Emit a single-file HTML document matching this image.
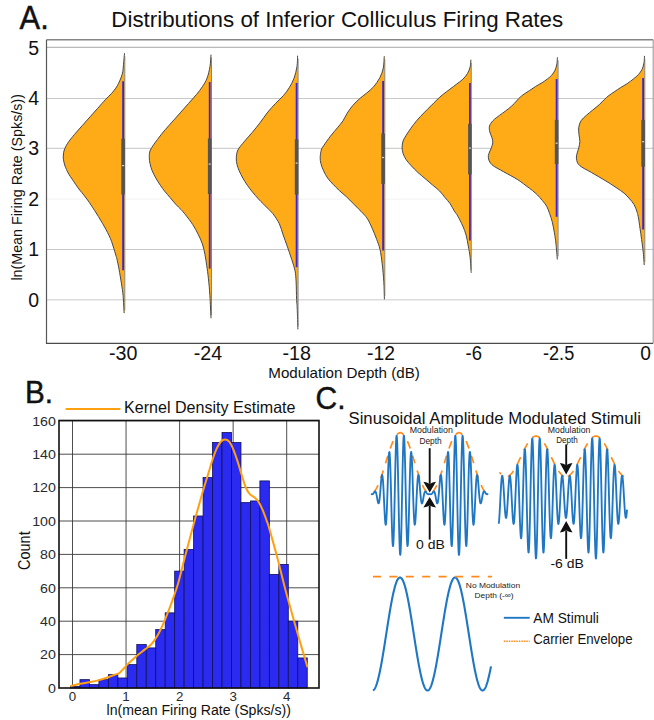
<!DOCTYPE html>
<html><head><meta charset="utf-8"><style>
html,body{margin:0;padding:0;background:#fff;width:654px;height:720px;overflow:hidden}
svg{display:block;font-family:"Liberation Sans", sans-serif}
</style></head><body>
<svg width="654" height="720" viewBox="0 0 654 720">
<rect width="654" height="720" fill="#fff"/>
<line x1="46.5" y1="299.7" x2="653.2" y2="299.7" stroke="#dcdcdc" stroke-width="1.5"/>
<line x1="46.5" y1="249.5" x2="653.2" y2="249.5" stroke="#c6c6c6" stroke-width="1.2"/>
<line x1="46.5" y1="199.2" x2="653.2" y2="199.2" stroke="#f5f5f5" stroke-width="1.2"/>
<line x1="46.5" y1="148.4" x2="653.2" y2="148.4" stroke="#cfcfcf" stroke-width="1.2"/>
<line x1="46.5" y1="98.5" x2="653.2" y2="98.5" stroke="#c9c9c9" stroke-width="1.2"/>
<line x1="46.5" y1="47.4" x2="653.2" y2="47.4" stroke="#b9b9b9" stroke-width="1.3"/>
<path d="M124.5,53.2 C124.33,55.07 123.88,60.9 123.5,64.4 C123.12,67.9 123.23,70.63 122.2,74.2 C121.17,77.77 119.1,82.57 117.3,85.8 C115.5,89.03 113.35,91.33 111.4,93.6 C109.45,95.87 107.87,96.97 105.6,99.4 C103.33,101.83 100.4,105.28 97.8,108.2 C95.2,111.12 92.6,113.98 90,116.9 C87.4,119.82 84.78,122.78 82.2,125.7 C79.62,128.62 76.92,131.48 74.5,134.4 C72.08,137.32 69.41,140.6 67.7,143.2 C65.99,145.8 64.97,148.03 64.25,150 C63.53,151.97 63.54,153.47 63.4,155 C63.26,156.53 63.18,157.53 63.4,159.2 C63.62,160.87 64.18,163.28 64.7,165 C65.22,166.72 65.82,167.97 66.5,169.5 C67.18,171.03 67.85,172.58 68.8,174.2 C69.75,175.82 71.08,177.53 72.2,179.2 C73.32,180.87 74.25,182.4 75.5,184.2 C76.75,186 78.32,188.2 79.7,190 C81.08,191.8 82.48,193.33 83.8,195 C85.12,196.67 86.4,198.33 87.6,200 C88.8,201.67 89.8,203.2 91,205 C92.2,206.8 93.55,208.85 94.8,210.8 C96.05,212.75 97.22,214.62 98.5,216.7 C99.78,218.78 101.28,221.22 102.5,223.3 C103.72,225.38 104.68,227.12 105.8,229.2 C106.92,231.28 108.22,233.72 109.2,235.8 C110.18,237.88 110.94,239.62 111.7,241.7 C112.46,243.78 113.07,246.08 113.75,248.3 C114.43,250.52 115.21,252.95 115.8,255 C116.39,257.05 116.67,257.72 117.3,260.6 C117.93,263.48 118.9,268.42 119.6,272.3 C120.3,276.18 120.92,280.02 121.5,283.9 C122.08,287.78 122.67,290.73 123.1,295.6 C123.53,300.47 123.93,310.18 124.1,313.1 L124.5,313.1 L124.5,53.2 Z" fill="#feab17" stroke="none"/>
<path d="M124.5,53.2 C124.33,55.07 123.88,60.9 123.5,64.4 C123.12,67.9 123.23,70.63 122.2,74.2 C121.17,77.77 119.1,82.57 117.3,85.8 C115.5,89.03 113.35,91.33 111.4,93.6 C109.45,95.87 107.87,96.97 105.6,99.4 C103.33,101.83 100.4,105.28 97.8,108.2 C95.2,111.12 92.6,113.98 90,116.9 C87.4,119.82 84.78,122.78 82.2,125.7 C79.62,128.62 76.92,131.48 74.5,134.4 C72.08,137.32 69.41,140.6 67.7,143.2 C65.99,145.8 64.97,148.03 64.25,150 C63.53,151.97 63.54,153.47 63.4,155 C63.26,156.53 63.18,157.53 63.4,159.2 C63.62,160.87 64.18,163.28 64.7,165 C65.22,166.72 65.82,167.97 66.5,169.5 C67.18,171.03 67.85,172.58 68.8,174.2 C69.75,175.82 71.08,177.53 72.2,179.2 C73.32,180.87 74.25,182.4 75.5,184.2 C76.75,186 78.32,188.2 79.7,190 C81.08,191.8 82.48,193.33 83.8,195 C85.12,196.67 86.4,198.33 87.6,200 C88.8,201.67 89.8,203.2 91,205 C92.2,206.8 93.55,208.85 94.8,210.8 C96.05,212.75 97.22,214.62 98.5,216.7 C99.78,218.78 101.28,221.22 102.5,223.3 C103.72,225.38 104.68,227.12 105.8,229.2 C106.92,231.28 108.22,233.72 109.2,235.8 C110.18,237.88 110.94,239.62 111.7,241.7 C112.46,243.78 113.07,246.08 113.75,248.3 C114.43,250.52 115.21,252.95 115.8,255 C116.39,257.05 116.67,257.72 117.3,260.6 C117.93,263.48 118.9,268.42 119.6,272.3 C120.3,276.18 120.92,280.02 121.5,283.9 C122.08,287.78 122.67,290.73 123.1,295.6 C123.53,300.47 123.93,310.18 124.1,313.1" fill="none" stroke="#474747" stroke-width="1.0"/>
<line x1="124.8" y1="56.2" x2="124.8" y2="310.1" stroke="#6a6a6a" stroke-width="0.8"/>
<line x1="123.1" y1="81.25" x2="123.1" y2="270.3" stroke="#4224cc" stroke-width="1.8"/>
<rect x="121.3" y="138.7" width="3.6" height="55.8" fill="#545454"/>
<rect x="122.1" y="165" width="2" height="1.2" fill="#d8d8d8"/>
<path d="M211,54.7 C210.83,56.65 210.65,62.5 210,66.4 C209.35,70.3 208.38,74.7 207.1,78.1 C205.82,81.5 204.08,84.05 202.3,86.8 C200.52,89.55 198.68,91.83 196.4,94.6 C194.12,97.37 191.18,100.48 188.6,103.4 C186.02,106.32 183.48,109.18 180.9,112.1 C178.32,115.02 175.7,117.98 173.1,120.9 C170.5,123.82 167.9,126.52 165.3,129.6 C162.7,132.68 159.98,136 157.5,139.4 C155.02,142.8 151.77,147.03 150.4,150 C149.03,152.97 149.37,154.95 149.3,157.2 C149.23,159.45 149.52,161.23 150,163.5 C150.48,165.77 151.23,168.38 152.2,170.8 C153.17,173.22 154.45,175.6 155.8,178 C157.15,180.4 158.78,182.95 160.3,185.2 C161.82,187.45 163.23,189.4 164.9,191.5 C166.57,193.6 168.5,195.68 170.3,197.8 C172.1,199.92 173.9,202.23 175.7,204.2 C177.5,206.17 179.47,207.83 181.1,209.6 C182.73,211.37 183.57,212.32 185.5,214.8 C187.43,217.28 190.6,221.27 192.7,224.5 C194.8,227.73 196.48,230.97 198.1,234.2 C199.72,237.43 201.25,240.48 202.4,243.9 C203.55,247.32 204.28,251.12 205,254.7 C205.72,258.28 206.13,261.47 206.7,265.4 C207.27,269.33 207.87,273.27 208.4,278.3 C208.93,283.33 209.47,288.95 209.9,295.6 C210.33,302.25 210.82,314.43 211,318.2 L211.2,318.2 L211.2,54.7 Z" fill="#feab17" stroke="none"/>
<path d="M211,54.7 C210.83,56.65 210.65,62.5 210,66.4 C209.35,70.3 208.38,74.7 207.1,78.1 C205.82,81.5 204.08,84.05 202.3,86.8 C200.52,89.55 198.68,91.83 196.4,94.6 C194.12,97.37 191.18,100.48 188.6,103.4 C186.02,106.32 183.48,109.18 180.9,112.1 C178.32,115.02 175.7,117.98 173.1,120.9 C170.5,123.82 167.9,126.52 165.3,129.6 C162.7,132.68 159.98,136 157.5,139.4 C155.02,142.8 151.77,147.03 150.4,150 C149.03,152.97 149.37,154.95 149.3,157.2 C149.23,159.45 149.52,161.23 150,163.5 C150.48,165.77 151.23,168.38 152.2,170.8 C153.17,173.22 154.45,175.6 155.8,178 C157.15,180.4 158.78,182.95 160.3,185.2 C161.82,187.45 163.23,189.4 164.9,191.5 C166.57,193.6 168.5,195.68 170.3,197.8 C172.1,199.92 173.9,202.23 175.7,204.2 C177.5,206.17 179.47,207.83 181.1,209.6 C182.73,211.37 183.57,212.32 185.5,214.8 C187.43,217.28 190.6,221.27 192.7,224.5 C194.8,227.73 196.48,230.97 198.1,234.2 C199.72,237.43 201.25,240.48 202.4,243.9 C203.55,247.32 204.28,251.12 205,254.7 C205.72,258.28 206.13,261.47 206.7,265.4 C207.27,269.33 207.87,273.27 208.4,278.3 C208.93,283.33 209.47,288.95 209.9,295.6 C210.33,302.25 210.82,314.43 211,318.2" fill="none" stroke="#474747" stroke-width="1.0"/>
<line x1="211.5" y1="57.7" x2="211.5" y2="315.2" stroke="#6a6a6a" stroke-width="0.8"/>
<line x1="209.7" y1="82" x2="209.7" y2="268.6" stroke="#4224cc" stroke-width="1.8"/>
<rect x="207.9" y="138.4" width="3.6" height="55.6" fill="#545454"/>
<rect x="208.7" y="163.5" width="2" height="1.2" fill="#d8d8d8"/>
<path d="M297.6,55.7 C297.5,57.48 297.58,62.67 297,66.4 C296.42,70.13 295.4,74.53 294.1,78.1 C292.8,81.67 290.98,84.88 289.2,87.8 C287.42,90.72 285.67,93 283.4,95.6 C281.13,98.2 278.2,100.65 275.6,103.4 C273,106.15 270.4,108.87 267.8,112.1 C265.2,115.33 262.6,119.4 260,122.8 C257.4,126.2 254.78,129.42 252.2,132.5 C249.62,135.58 246.88,138.38 244.5,141.3 C242.12,144.22 239.27,147.2 237.9,150 C236.53,152.8 236.45,155.7 236.3,158.1 C236.15,160.5 236.52,162.28 237,164.4 C237.48,166.52 238.23,168.53 239.2,170.8 C240.17,173.07 241.45,175.6 242.8,178 C244.15,180.4 245.63,182.8 247.3,185.2 C248.97,187.6 250.98,190.15 252.8,192.4 C254.62,194.65 256.4,196.73 258.2,198.7 C260,200.67 261.8,202.38 263.6,204.2 C265.4,206.02 267.28,207.8 269,209.6 C270.72,211.4 272.17,212.62 273.9,215 C275.63,217.38 277.85,220.57 279.4,223.9 C280.95,227.23 281.9,231.3 283.2,235 C284.5,238.7 285.78,242.03 287.2,246.1 C288.62,250.17 290.4,255.32 291.7,259.4 C293,263.48 294.27,266.88 295,270.6 C295.73,274.32 295.83,276.9 296.1,281.7 C296.37,286.5 296.42,294.97 296.6,299.4 C296.78,303.83 296.98,303.3 297.2,308.3 C297.42,313.3 297.78,325.88 297.9,329.4 L297.8,329.4 L297.8,55.7 Z" fill="#feab17" stroke="none"/>
<path d="M297.6,55.7 C297.5,57.48 297.58,62.67 297,66.4 C296.42,70.13 295.4,74.53 294.1,78.1 C292.8,81.67 290.98,84.88 289.2,87.8 C287.42,90.72 285.67,93 283.4,95.6 C281.13,98.2 278.2,100.65 275.6,103.4 C273,106.15 270.4,108.87 267.8,112.1 C265.2,115.33 262.6,119.4 260,122.8 C257.4,126.2 254.78,129.42 252.2,132.5 C249.62,135.58 246.88,138.38 244.5,141.3 C242.12,144.22 239.27,147.2 237.9,150 C236.53,152.8 236.45,155.7 236.3,158.1 C236.15,160.5 236.52,162.28 237,164.4 C237.48,166.52 238.23,168.53 239.2,170.8 C240.17,173.07 241.45,175.6 242.8,178 C244.15,180.4 245.63,182.8 247.3,185.2 C248.97,187.6 250.98,190.15 252.8,192.4 C254.62,194.65 256.4,196.73 258.2,198.7 C260,200.67 261.8,202.38 263.6,204.2 C265.4,206.02 267.28,207.8 269,209.6 C270.72,211.4 272.17,212.62 273.9,215 C275.63,217.38 277.85,220.57 279.4,223.9 C280.95,227.23 281.9,231.3 283.2,235 C284.5,238.7 285.78,242.03 287.2,246.1 C288.62,250.17 290.4,255.32 291.7,259.4 C293,263.48 294.27,266.88 295,270.6 C295.73,274.32 295.83,276.9 296.1,281.7 C296.37,286.5 296.42,294.97 296.6,299.4 C296.78,303.83 296.98,303.3 297.2,308.3 C297.42,313.3 297.78,325.88 297.9,329.4" fill="none" stroke="#474747" stroke-width="1.0"/>
<line x1="298.1" y1="58.7" x2="298.1" y2="326.4" stroke="#6a6a6a" stroke-width="0.8"/>
<line x1="296.6" y1="82.9" x2="296.6" y2="267.2" stroke="#4224cc" stroke-width="1.8"/>
<rect x="294.8" y="139.4" width="3.6" height="55.2" fill="#545454"/>
<rect x="295.6" y="162.5" width="2" height="1.2" fill="#d8d8d8"/>
<path d="M384.25,56.25 C384.09,58.23 384.04,64.51 383.3,68.1 C382.56,71.69 381.42,74.68 379.8,77.8 C378.18,80.92 375.8,84.25 373.6,86.8 C371.4,89.35 368.92,91.13 366.6,93.1 C364.28,95.07 362.02,96.52 359.7,98.6 C357.38,100.68 354.78,103.17 352.7,105.6 C350.62,108.03 348.82,110.67 347.2,113.2 C345.58,115.73 344.63,118.37 343,120.8 C341.37,123.23 339.48,125.25 337.4,127.8 C335.32,130.35 332.8,133.1 330.5,136.1 C328.2,139.1 325.13,143.48 323.6,145.8 C322.07,148.12 321.87,148.1 321.3,150 C320.73,151.9 320.27,154.95 320.2,157.2 C320.13,159.45 320.33,161.23 320.9,163.5 C321.47,165.77 322.48,168.38 323.6,170.8 C324.72,173.22 326.02,175.75 327.6,178 C329.18,180.25 331.13,182.2 333.1,184.3 C335.07,186.4 337.15,188.5 339.4,190.6 C341.65,192.7 344.35,194.8 346.6,196.9 C348.85,199 350.95,201.23 352.9,203.2 C354.85,205.17 356.5,206.88 358.3,208.7 C360.1,210.52 362.12,212.32 363.7,214.1 C365.28,215.88 366.38,217.03 367.8,219.4 C369.22,221.77 370.72,224.97 372.2,228.3 C373.68,231.63 375.4,235.88 376.7,239.4 C378,242.92 379.08,245.32 380,249.4 C380.92,253.48 381.57,258.52 382.2,263.9 C382.83,269.28 383.43,275.78 383.8,281.7 C384.17,287.62 384.3,296.45 384.4,299.4 L384.5,299.4 L384.5,56.25 Z" fill="#feab17" stroke="none"/>
<path d="M384.25,56.25 C384.09,58.23 384.04,64.51 383.3,68.1 C382.56,71.69 381.42,74.68 379.8,77.8 C378.18,80.92 375.8,84.25 373.6,86.8 C371.4,89.35 368.92,91.13 366.6,93.1 C364.28,95.07 362.02,96.52 359.7,98.6 C357.38,100.68 354.78,103.17 352.7,105.6 C350.62,108.03 348.82,110.67 347.2,113.2 C345.58,115.73 344.63,118.37 343,120.8 C341.37,123.23 339.48,125.25 337.4,127.8 C335.32,130.35 332.8,133.1 330.5,136.1 C328.2,139.1 325.13,143.48 323.6,145.8 C322.07,148.12 321.87,148.1 321.3,150 C320.73,151.9 320.27,154.95 320.2,157.2 C320.13,159.45 320.33,161.23 320.9,163.5 C321.47,165.77 322.48,168.38 323.6,170.8 C324.72,173.22 326.02,175.75 327.6,178 C329.18,180.25 331.13,182.2 333.1,184.3 C335.07,186.4 337.15,188.5 339.4,190.6 C341.65,192.7 344.35,194.8 346.6,196.9 C348.85,199 350.95,201.23 352.9,203.2 C354.85,205.17 356.5,206.88 358.3,208.7 C360.1,210.52 362.12,212.32 363.7,214.1 C365.28,215.88 366.38,217.03 367.8,219.4 C369.22,221.77 370.72,224.97 372.2,228.3 C373.68,231.63 375.4,235.88 376.7,239.4 C378,242.92 379.08,245.32 380,249.4 C380.92,253.48 381.57,258.52 382.2,263.9 C382.83,269.28 383.43,275.78 383.8,281.7 C384.17,287.62 384.3,296.45 384.4,299.4" fill="none" stroke="#474747" stroke-width="1.0"/>
<line x1="384.8" y1="59.25" x2="384.8" y2="296.4" stroke="#6a6a6a" stroke-width="0.8"/>
<line x1="383.1" y1="81" x2="383.1" y2="250.6" stroke="#4224cc" stroke-width="1.8"/>
<rect x="381.3" y="133.5" width="3.6" height="50.4" fill="#545454"/>
<rect x="382.1" y="156.9" width="2" height="1.2" fill="#d8d8d8"/>
<path d="M470.9,59.7 C470.78,60.88 470.75,64.53 470.2,66.8 C469.65,69.07 468.82,71.23 467.6,73.3 C466.38,75.37 464.68,77.43 462.9,79.2 C461.12,80.97 459.07,82.23 456.9,83.9 C454.73,85.57 452.25,87.42 449.9,89.2 C447.55,90.98 444.97,92.82 442.8,94.6 C440.63,96.38 438.87,98.03 436.9,99.9 C434.93,101.77 433.17,103.63 431,105.8 C428.83,107.97 426.27,110.45 423.9,112.9 C421.53,115.35 418.97,117.95 416.8,120.5 C414.63,123.05 412.67,125.73 410.9,128.2 C409.13,130.67 407.5,133.17 406.2,135.3 C404.9,137.43 403.78,139 403.1,141 C402.42,143 402.1,145.22 402.1,147.3 C402.1,149.38 402.41,151.42 403.1,153.5 C403.79,155.58 404.85,157.72 406.25,159.8 C407.65,161.88 409.59,163.92 411.5,166 C413.41,168.08 415.45,170.22 417.7,172.3 C419.95,174.38 422.57,176.42 425,178.5 C427.43,180.58 429.87,182.72 432.3,184.8 C434.73,186.88 437.52,188.92 439.6,191 C441.68,193.08 443.07,195.22 444.8,197.3 C446.53,199.38 448.43,201.25 450,203.5 C451.57,205.75 452.9,208.7 454.2,210.8 C455.5,212.9 456.37,213.55 457.8,216.1 C459.23,218.65 461.42,222.95 462.8,226.1 C464.18,229.25 465.18,231.67 466.1,235 C467.02,238.33 467.63,242.4 468.3,246.1 C468.97,249.8 469.62,252.75 470.1,257.2 C470.58,261.65 471.02,270.2 471.2,272.8 L471,272.8 L471,59.7 Z" fill="#feab17" stroke="none"/>
<path d="M470.9,59.7 C470.78,60.88 470.75,64.53 470.2,66.8 C469.65,69.07 468.82,71.23 467.6,73.3 C466.38,75.37 464.68,77.43 462.9,79.2 C461.12,80.97 459.07,82.23 456.9,83.9 C454.73,85.57 452.25,87.42 449.9,89.2 C447.55,90.98 444.97,92.82 442.8,94.6 C440.63,96.38 438.87,98.03 436.9,99.9 C434.93,101.77 433.17,103.63 431,105.8 C428.83,107.97 426.27,110.45 423.9,112.9 C421.53,115.35 418.97,117.95 416.8,120.5 C414.63,123.05 412.67,125.73 410.9,128.2 C409.13,130.67 407.5,133.17 406.2,135.3 C404.9,137.43 403.78,139 403.1,141 C402.42,143 402.1,145.22 402.1,147.3 C402.1,149.38 402.41,151.42 403.1,153.5 C403.79,155.58 404.85,157.72 406.25,159.8 C407.65,161.88 409.59,163.92 411.5,166 C413.41,168.08 415.45,170.22 417.7,172.3 C419.95,174.38 422.57,176.42 425,178.5 C427.43,180.58 429.87,182.72 432.3,184.8 C434.73,186.88 437.52,188.92 439.6,191 C441.68,193.08 443.07,195.22 444.8,197.3 C446.53,199.38 448.43,201.25 450,203.5 C451.57,205.75 452.9,208.7 454.2,210.8 C455.5,212.9 456.37,213.55 457.8,216.1 C459.23,218.65 461.42,222.95 462.8,226.1 C464.18,229.25 465.18,231.67 466.1,235 C467.02,238.33 467.63,242.4 468.3,246.1 C468.97,249.8 469.62,252.75 470.1,257.2 C470.58,261.65 471.02,270.2 471.2,272.8" fill="none" stroke="#474747" stroke-width="1.0"/>
<line x1="471.3" y1="62.7" x2="471.3" y2="269.8" stroke="#6a6a6a" stroke-width="0.8"/>
<line x1="469.9" y1="82.9" x2="469.9" y2="240.6" stroke="#4224cc" stroke-width="1.8"/>
<rect x="468.1" y="123.8" width="3.6" height="50.6" fill="#545454"/>
<rect x="468.9" y="147.5" width="2" height="1.2" fill="#d8d8d8"/>
<path d="M557.4,57.3 C557.32,58.4 557.3,61.73 556.9,63.9 C556.5,66.07 555.87,68.42 555,70.3 C554.13,72.18 552.95,73.77 551.7,75.2 C550.45,76.63 549.1,77.65 547.5,78.9 C545.9,80.15 544.07,81.45 542.1,82.7 C540.13,83.95 537.83,85.07 535.7,86.4 C533.57,87.73 531.45,89.27 529.3,90.7 C527.15,92.13 524.58,93.67 522.8,95 C521.02,96.33 520.02,97.28 518.6,98.7 C517.18,100.12 515.92,101.88 514.3,103.5 C512.68,105.12 510.87,106.78 508.9,108.4 C506.93,110.02 504.52,111.7 502.5,113.2 C500.48,114.7 498.43,116.12 496.8,117.4 C495.18,118.68 493.97,119.47 492.75,120.9 C491.53,122.33 489.99,124.17 489.5,126 C489.01,127.83 489.38,129.95 489.8,131.9 C490.22,133.85 491.51,135.88 492,137.7 C492.49,139.52 492.87,141.1 492.75,142.8 C492.63,144.5 491.84,146.37 491.3,147.9 C490.76,149.43 489.98,150.73 489.5,152 C489.02,153.27 488.55,154.33 488.4,155.5 C488.25,156.67 488.27,157.75 488.6,159 C488.93,160.25 489.47,161.77 490.4,163 C491.33,164.23 492.55,165.25 494.2,166.4 C495.85,167.55 498.13,168.68 500.3,169.9 C502.47,171.12 504.9,172.43 507.2,173.7 C509.5,174.97 511.93,176.23 514.1,177.5 C516.27,178.77 518.17,179.9 520.2,181.3 C522.23,182.7 524.27,184.37 526.3,185.9 C528.33,187.43 530.53,188.98 532.4,190.5 C534.27,192.02 535.85,193.35 537.5,195 C539.15,196.65 540.77,198.53 542.3,200.4 C543.83,202.28 545.48,204.07 546.7,206.25 C547.92,208.43 548.68,210.93 549.6,213.5 C550.52,216.07 551.4,218.48 552.2,221.7 C553,224.92 553.77,229.1 554.4,232.8 C555.03,236.5 555.52,239.47 556,243.9 C556.48,248.33 557.08,256.82 557.3,259.4 L557.8,259.4 L557.8,57.3 Z" fill="#feab17" stroke="none"/>
<path d="M557.4,57.3 C557.32,58.4 557.3,61.73 556.9,63.9 C556.5,66.07 555.87,68.42 555,70.3 C554.13,72.18 552.95,73.77 551.7,75.2 C550.45,76.63 549.1,77.65 547.5,78.9 C545.9,80.15 544.07,81.45 542.1,82.7 C540.13,83.95 537.83,85.07 535.7,86.4 C533.57,87.73 531.45,89.27 529.3,90.7 C527.15,92.13 524.58,93.67 522.8,95 C521.02,96.33 520.02,97.28 518.6,98.7 C517.18,100.12 515.92,101.88 514.3,103.5 C512.68,105.12 510.87,106.78 508.9,108.4 C506.93,110.02 504.52,111.7 502.5,113.2 C500.48,114.7 498.43,116.12 496.8,117.4 C495.18,118.68 493.97,119.47 492.75,120.9 C491.53,122.33 489.99,124.17 489.5,126 C489.01,127.83 489.38,129.95 489.8,131.9 C490.22,133.85 491.51,135.88 492,137.7 C492.49,139.52 492.87,141.1 492.75,142.8 C492.63,144.5 491.84,146.37 491.3,147.9 C490.76,149.43 489.98,150.73 489.5,152 C489.02,153.27 488.55,154.33 488.4,155.5 C488.25,156.67 488.27,157.75 488.6,159 C488.93,160.25 489.47,161.77 490.4,163 C491.33,164.23 492.55,165.25 494.2,166.4 C495.85,167.55 498.13,168.68 500.3,169.9 C502.47,171.12 504.9,172.43 507.2,173.7 C509.5,174.97 511.93,176.23 514.1,177.5 C516.27,178.77 518.17,179.9 520.2,181.3 C522.23,182.7 524.27,184.37 526.3,185.9 C528.33,187.43 530.53,188.98 532.4,190.5 C534.27,192.02 535.85,193.35 537.5,195 C539.15,196.65 540.77,198.53 542.3,200.4 C543.83,202.28 545.48,204.07 546.7,206.25 C547.92,208.43 548.68,210.93 549.6,213.5 C550.52,216.07 551.4,218.48 552.2,221.7 C553,224.92 553.77,229.1 554.4,232.8 C555.03,236.5 555.52,239.47 556,243.9 C556.48,248.33 557.08,256.82 557.3,259.4" fill="none" stroke="#474747" stroke-width="1.0"/>
<line x1="558.1" y1="60.3" x2="558.1" y2="256.4" stroke="#6a6a6a" stroke-width="0.8"/>
<line x1="556.6" y1="79" x2="556.6" y2="216.8" stroke="#4224cc" stroke-width="1.8"/>
<rect x="554.8" y="119.9" width="3.6" height="44.2" fill="#545454"/>
<rect x="555.6" y="142.6" width="2" height="1.2" fill="#d8d8d8"/>
<path d="M644.5,55.9 C644.42,57.05 644.4,60.57 644,62.8 C643.6,65.03 643.03,67.33 642.1,69.3 C641.17,71.27 639.83,73 638.4,74.6 C636.97,76.2 635.38,77.38 633.5,78.9 C631.62,80.42 629.23,82.27 627.1,83.7 C624.97,85.13 622.83,86.15 620.7,87.5 C618.57,88.85 616.27,90.47 614.3,91.8 C612.33,93.13 610.52,94.25 608.9,95.5 C607.28,96.75 606.2,97.78 604.6,99.3 C603,100.82 601.27,102.82 599.3,104.6 C597.33,106.38 594.95,108.22 592.8,110 C590.65,111.78 588.35,113.52 586.4,115.3 C584.45,117.08 582.38,118.67 581.1,120.7 C579.82,122.73 579.05,125.15 578.7,127.5 C578.35,129.85 578.8,132.48 579,134.8 C579.2,137.12 579.94,139.22 579.9,141.4 C579.86,143.58 579.2,145.97 578.75,147.9 C578.3,149.83 577.59,151.48 577.2,153 C576.81,154.52 576.47,155.75 576.4,157 C576.33,158.25 576.52,159.37 576.8,160.5 C577.08,161.63 577.25,162.68 578.1,163.8 C578.95,164.92 580.23,166.07 581.9,167.2 C583.57,168.33 585.93,169.38 588.1,170.6 C590.27,171.82 592.48,173.1 594.9,174.5 C597.32,175.9 600.05,177.48 602.6,179 C605.15,180.52 607.78,182.07 610.2,183.6 C612.62,185.13 614.8,186.62 617.1,188.2 C619.4,189.78 621.88,191.3 624,193.1 C626.12,194.9 628.1,197.05 629.8,199 C631.5,200.95 632.98,202.62 634.2,204.8 C635.42,206.98 636.38,209.9 637.1,212.1 C637.82,214.3 638.02,215.3 638.5,218 C638.98,220.7 639.48,224.73 640,228.3 C640.52,231.87 641.05,235.32 641.6,239.4 C642.15,243.48 642.87,248.53 643.3,252.8 C643.73,257.07 644.05,262.97 644.2,265 L644.5,265 L644.5,55.9 Z" fill="#feab17" stroke="none"/>
<path d="M644.5,55.9 C644.42,57.05 644.4,60.57 644,62.8 C643.6,65.03 643.03,67.33 642.1,69.3 C641.17,71.27 639.83,73 638.4,74.6 C636.97,76.2 635.38,77.38 633.5,78.9 C631.62,80.42 629.23,82.27 627.1,83.7 C624.97,85.13 622.83,86.15 620.7,87.5 C618.57,88.85 616.27,90.47 614.3,91.8 C612.33,93.13 610.52,94.25 608.9,95.5 C607.28,96.75 606.2,97.78 604.6,99.3 C603,100.82 601.27,102.82 599.3,104.6 C597.33,106.38 594.95,108.22 592.8,110 C590.65,111.78 588.35,113.52 586.4,115.3 C584.45,117.08 582.38,118.67 581.1,120.7 C579.82,122.73 579.05,125.15 578.7,127.5 C578.35,129.85 578.8,132.48 579,134.8 C579.2,137.12 579.94,139.22 579.9,141.4 C579.86,143.58 579.2,145.97 578.75,147.9 C578.3,149.83 577.59,151.48 577.2,153 C576.81,154.52 576.47,155.75 576.4,157 C576.33,158.25 576.52,159.37 576.8,160.5 C577.08,161.63 577.25,162.68 578.1,163.8 C578.95,164.92 580.23,166.07 581.9,167.2 C583.57,168.33 585.93,169.38 588.1,170.6 C590.27,171.82 592.48,173.1 594.9,174.5 C597.32,175.9 600.05,177.48 602.6,179 C605.15,180.52 607.78,182.07 610.2,183.6 C612.62,185.13 614.8,186.62 617.1,188.2 C619.4,189.78 621.88,191.3 624,193.1 C626.12,194.9 628.1,197.05 629.8,199 C631.5,200.95 632.98,202.62 634.2,204.8 C635.42,206.98 636.38,209.9 637.1,212.1 C637.82,214.3 638.02,215.3 638.5,218 C638.98,220.7 639.48,224.73 640,228.3 C640.52,231.87 641.05,235.32 641.6,239.4 C642.15,243.48 642.87,248.53 643.3,252.8 C643.73,257.07 644.05,262.97 644.2,265" fill="none" stroke="#474747" stroke-width="1.0"/>
<line x1="644.8" y1="58.9" x2="644.8" y2="262" stroke="#6a6a6a" stroke-width="0.8"/>
<line x1="643.1" y1="78.1" x2="643.1" y2="229.4" stroke="#4224cc" stroke-width="1.8"/>
<rect x="641.3" y="119.9" width="3.6" height="46.7" fill="#545454"/>
<rect x="642.1" y="141.1" width="2" height="1.2" fill="#d8d8d8"/>
<line x1="46.5" y1="39.7" x2="653.2" y2="39.7" stroke="#858585" stroke-width="1.4"/>
<line x1="653.2" y1="39.7" x2="653.2" y2="343.3" stroke="#9a9a9a" stroke-width="1.1"/>
<line x1="46.5" y1="39.7" x2="46.5" y2="343.3" stroke="#585858" stroke-width="1.2"/>
<line x1="45.9" y1="343.3" x2="653.2" y2="343.3" stroke="#4a4a4a" stroke-width="1.3"/>
<text x="19.6" y="29.4" font-size="32.5" text-anchor="start" fill="#111" textLength="29.2" lengthAdjust="spacingAndGlyphs" stroke="#111" stroke-width="0.45">A.</text>
<text x="111.3" y="26.8" font-size="22.8" text-anchor="start" fill="#111" textLength="451.8" lengthAdjust="spacingAndGlyphs">Distributions of Inferior Colliculus Firing Rates</text>
<text x="39" y="306.5" font-size="19.5" text-anchor="end" fill="#111">0</text>
<text x="39" y="256.3" font-size="19.5" text-anchor="end" fill="#111">1</text>
<text x="39" y="206" font-size="19.5" text-anchor="end" fill="#111">2</text>
<text x="39" y="155.2" font-size="19.5" text-anchor="end" fill="#111">3</text>
<text x="39" y="105.3" font-size="19.5" text-anchor="end" fill="#111">4</text>
<text x="39" y="54.8" font-size="19.5" text-anchor="end" fill="#111">5</text>
<text x="123.2" y="359.5" font-size="20" text-anchor="middle" fill="#111" textLength="28.4" lengthAdjust="spacingAndGlyphs">-30</text>
<text x="208" y="359.5" font-size="20" text-anchor="middle" fill="#111" textLength="28.4" lengthAdjust="spacingAndGlyphs">-24</text>
<text x="296.7" y="359.5" font-size="20" text-anchor="middle" fill="#111" textLength="28.5" lengthAdjust="spacingAndGlyphs">-18</text>
<text x="381" y="359.5" font-size="20" text-anchor="middle" fill="#111" textLength="27.9" lengthAdjust="spacingAndGlyphs">-12</text>
<text x="473.7" y="359.5" font-size="20" text-anchor="middle" fill="#111" textLength="16.4" lengthAdjust="spacingAndGlyphs">-6</text>
<text x="558.6" y="359.5" font-size="20" text-anchor="middle" fill="#111" textLength="31.2" lengthAdjust="spacingAndGlyphs">-2.5</text>
<text x="645.6" y="359.5" font-size="20" text-anchor="middle" fill="#111" textLength="10.7" lengthAdjust="spacingAndGlyphs">0</text>
<text x="268.3" y="378.1" font-size="15" text-anchor="start" fill="#111" textLength="151.5" lengthAdjust="spacingAndGlyphs">Modulation Depth (dB)</text>
<text transform="translate(22.3,280.6) rotate(-90)" x="0" y="0" font-size="14.6" fill="#111" textLength="186.5" lengthAdjust="spacingAndGlyphs">ln(Mean Firing Rate (Spks/s))</text>
<line x1="72.5" y1="420.5" x2="72.5" y2="688" stroke="#3a3a3a" stroke-width="0.9"/>
<line x1="126.05" y1="420.5" x2="126.05" y2="688" stroke="#3a3a3a" stroke-width="0.9"/>
<line x1="179.6" y1="420.5" x2="179.6" y2="688" stroke="#3a3a3a" stroke-width="0.9"/>
<line x1="233.15" y1="420.5" x2="233.15" y2="688" stroke="#3a3a3a" stroke-width="0.9"/>
<line x1="286.7" y1="420.5" x2="286.7" y2="688" stroke="#3a3a3a" stroke-width="0.9"/>
<line x1="59" y1="654.6" x2="319" y2="654.6" stroke="#3a3a3a" stroke-width="0.9"/>
<line x1="59" y1="621.2" x2="319" y2="621.2" stroke="#3a3a3a" stroke-width="0.9"/>
<line x1="59" y1="587.8" x2="319" y2="587.8" stroke="#3a3a3a" stroke-width="0.9"/>
<line x1="59" y1="554.4" x2="319" y2="554.4" stroke="#3a3a3a" stroke-width="0.9"/>
<line x1="59" y1="521" x2="319" y2="521" stroke="#3a3a3a" stroke-width="0.9"/>
<line x1="59" y1="487.6" x2="319" y2="487.6" stroke="#3a3a3a" stroke-width="0.9"/>
<line x1="59" y1="454.2" x2="319" y2="454.2" stroke="#3a3a3a" stroke-width="0.9"/>
<line x1="59" y1="420.8" x2="319" y2="420.8" stroke="#3a3a3a" stroke-width="0.9"/>
<rect x="70.5" y="686.33" width="9.47" height="1.67" fill="#2a2af0" stroke="#10105a" stroke-width="0.8"/>
<rect x="79.97" y="679.65" width="9.47" height="8.35" fill="#2a2af0" stroke="#10105a" stroke-width="0.8"/>
<rect x="89.44" y="684.66" width="9.47" height="3.34" fill="#2a2af0" stroke="#10105a" stroke-width="0.8"/>
<rect x="98.91" y="679.65" width="9.47" height="8.35" fill="#2a2af0" stroke="#10105a" stroke-width="0.8"/>
<rect x="108.38" y="674.64" width="9.47" height="13.36" fill="#2a2af0" stroke="#10105a" stroke-width="0.8"/>
<rect x="117.85" y="677.98" width="9.47" height="10.02" fill="#2a2af0" stroke="#10105a" stroke-width="0.8"/>
<rect x="127.32" y="664.62" width="9.47" height="23.38" fill="#2a2af0" stroke="#10105a" stroke-width="0.8"/>
<rect x="136.79" y="644.58" width="9.47" height="43.42" fill="#2a2af0" stroke="#10105a" stroke-width="0.8"/>
<rect x="146.26" y="647.92" width="9.47" height="40.08" fill="#2a2af0" stroke="#10105a" stroke-width="0.8"/>
<rect x="155.73" y="629.55" width="9.47" height="58.45" fill="#2a2af0" stroke="#10105a" stroke-width="0.8"/>
<rect x="165.2" y="612.85" width="9.47" height="75.15" fill="#2a2af0" stroke="#10105a" stroke-width="0.8"/>
<rect x="174.67" y="571.1" width="9.47" height="116.9" fill="#2a2af0" stroke="#10105a" stroke-width="0.8"/>
<rect x="184.14" y="549.39" width="9.47" height="138.61" fill="#2a2af0" stroke="#10105a" stroke-width="0.8"/>
<rect x="193.61" y="515.99" width="9.47" height="172.01" fill="#2a2af0" stroke="#10105a" stroke-width="0.8"/>
<rect x="203.08" y="477.58" width="9.47" height="210.42" fill="#2a2af0" stroke="#10105a" stroke-width="0.8"/>
<rect x="212.55" y="442.51" width="9.47" height="245.49" fill="#2a2af0" stroke="#10105a" stroke-width="0.8"/>
<rect x="222.02" y="432.49" width="9.47" height="255.51" fill="#2a2af0" stroke="#10105a" stroke-width="0.8"/>
<rect x="231.49" y="442.51" width="9.47" height="245.49" fill="#2a2af0" stroke="#10105a" stroke-width="0.8"/>
<rect x="240.96" y="502.63" width="9.47" height="185.37" fill="#2a2af0" stroke="#10105a" stroke-width="0.8"/>
<rect x="250.43" y="500.96" width="9.47" height="187.04" fill="#2a2af0" stroke="#10105a" stroke-width="0.8"/>
<rect x="259.9" y="480.92" width="9.47" height="207.08" fill="#2a2af0" stroke="#10105a" stroke-width="0.8"/>
<rect x="269.37" y="574.44" width="9.47" height="113.56" fill="#2a2af0" stroke="#10105a" stroke-width="0.8"/>
<rect x="278.84" y="564.42" width="9.47" height="123.58" fill="#2a2af0" stroke="#10105a" stroke-width="0.8"/>
<rect x="288.31" y="621.2" width="9.47" height="66.8" fill="#2a2af0" stroke="#10105a" stroke-width="0.8"/>
<rect x="297.78" y="657.94" width="9.47" height="30.06" fill="#2a2af0" stroke="#10105a" stroke-width="0.8"/>
<path d="M70.3,686.3 C71.9,685.88 76.77,684.47 79.9,683.8 C83.03,683.13 86.05,682.87 89.1,682.3 C92.15,681.73 94.9,681.28 98.2,680.4 C101.5,679.52 106.1,677.97 108.9,677 C111.7,676.03 113.15,675.37 115,674.6 C116.85,673.83 117.78,674.23 120,672.4 C122.22,670.57 125.52,666.35 128.3,663.6 C131.08,660.85 133.92,658.27 136.7,655.9 C139.48,653.53 142.47,651.45 145,649.4 C147.53,647.35 149.82,645.9 151.9,643.6 C153.98,641.3 155.65,638.8 157.5,635.6 C159.35,632.4 161.15,628.57 163,624.4 C164.85,620.23 166.73,615.45 168.6,610.6 C170.47,605.75 172.58,599.93 174.2,595.3 C175.82,590.67 176.57,588.98 178.3,582.8 C180.03,576.62 182.08,567.82 184.6,558.2 C187.12,548.58 190.48,535.8 193.4,525.1 C196.32,514.4 199.62,502.58 202.1,494 C204.58,485.42 206.57,479.32 208.3,473.6 C210.03,467.88 211.1,463.87 212.5,459.7 C213.9,455.53 215.32,451.6 216.7,448.6 C218.08,445.6 219.42,443.2 220.8,441.7 C222.18,440.2 223.6,439.6 225,439.6 C226.4,439.6 227.82,440.08 229.2,441.7 C230.58,443.32 231.92,446.07 233.3,449.3 C234.68,452.53 236.1,456.82 237.5,461.1 C238.9,465.38 240.32,470.6 241.7,475 C243.08,479.4 244.42,484.27 245.8,487.5 C247.18,490.73 248.6,492.78 250,494.4 C251.4,496.02 252.82,496.03 254.2,497.2 C255.58,498.37 256.92,499.32 258.3,501.4 C259.68,503.48 261.1,506.47 262.5,509.7 C263.9,512.93 265.57,517.65 266.7,520.8 C267.83,523.95 267.52,522.4 269.3,528.6 C271.08,534.8 274.68,547.67 277.4,558 C280.12,568.33 282.87,580.27 285.6,590.6 C288.33,600.93 291.35,611.28 293.8,620 C296.25,628.72 298.02,635.02 300.3,642.9 C302.58,650.78 306.3,663.23 307.5,667.3" fill="none" stroke="#ffa010" stroke-width="2"/>
<rect x="59" y="420.5" width="260" height="267.5" fill="none" stroke="#111" stroke-width="1.6"/>
<text x="25" y="403" font-size="30.5" text-anchor="start" fill="#111" textLength="28" lengthAdjust="spacingAndGlyphs" stroke="#111" stroke-width="0.45">B.</text>
<line x1="65.6" y1="409.1" x2="120.4" y2="409.1" stroke="#ffa010" stroke-width="2"/>
<text x="124" y="413.3" font-size="16.5" text-anchor="start" fill="#111" textLength="171.5" lengthAdjust="spacingAndGlyphs">Kernel Density Estimate</text>
<text x="55.9" y="692.7" font-size="12.9" text-anchor="end" fill="#2a2a2a" textLength="7.9" lengthAdjust="spacingAndGlyphs">0</text>
<text x="55.9" y="659.3" font-size="12.9" text-anchor="end" fill="#2a2a2a" textLength="15.8" lengthAdjust="spacingAndGlyphs">20</text>
<text x="55.9" y="625.9" font-size="12.9" text-anchor="end" fill="#2a2a2a" textLength="15.8" lengthAdjust="spacingAndGlyphs">40</text>
<text x="55.9" y="592.5" font-size="12.9" text-anchor="end" fill="#2a2a2a" textLength="15.8" lengthAdjust="spacingAndGlyphs">60</text>
<text x="55.9" y="559.1" font-size="12.9" text-anchor="end" fill="#2a2a2a" textLength="15.8" lengthAdjust="spacingAndGlyphs">80</text>
<text x="55.9" y="525.7" font-size="12.9" text-anchor="end" fill="#2a2a2a" textLength="23.7" lengthAdjust="spacingAndGlyphs">100</text>
<text x="55.9" y="492.3" font-size="12.9" text-anchor="end" fill="#2a2a2a" textLength="23.7" lengthAdjust="spacingAndGlyphs">120</text>
<text x="55.9" y="458.9" font-size="12.9" text-anchor="end" fill="#2a2a2a" textLength="23.7" lengthAdjust="spacingAndGlyphs">140</text>
<text x="55.9" y="425.5" font-size="12.9" text-anchor="end" fill="#2a2a2a" textLength="23.7" lengthAdjust="spacingAndGlyphs">160</text>
<text x="72.5" y="700.8" font-size="12.2" text-anchor="middle" fill="#2a2a2a" textLength="7.4" lengthAdjust="spacingAndGlyphs">0</text>
<text x="126.05" y="700.8" font-size="12.2" text-anchor="middle" fill="#2a2a2a" textLength="7.4" lengthAdjust="spacingAndGlyphs">1</text>
<text x="179.6" y="700.8" font-size="12.2" text-anchor="middle" fill="#2a2a2a" textLength="7.4" lengthAdjust="spacingAndGlyphs">2</text>
<text x="233.15" y="700.8" font-size="12.2" text-anchor="middle" fill="#2a2a2a" textLength="7.4" lengthAdjust="spacingAndGlyphs">3</text>
<text x="286.7" y="700.8" font-size="12.2" text-anchor="middle" fill="#2a2a2a" textLength="7.4" lengthAdjust="spacingAndGlyphs">4</text>
<text x="106.5" y="714.8" font-size="14" text-anchor="start" fill="#111" textLength="184.5" lengthAdjust="spacingAndGlyphs">ln(mean Firing Rate (Spks/s))</text>
<text transform="translate(29.5,570) rotate(-90)" x="0" y="0" font-size="16" fill="#111" textLength="38.7" lengthAdjust="spacingAndGlyphs">Count</text>
<text x="315.6" y="409.2" font-size="31.2" text-anchor="start" fill="#111" textLength="30" lengthAdjust="spacingAndGlyphs" stroke="#111" stroke-width="0.45">C.</text>
<text x="348.5" y="423.7" font-size="15.6" text-anchor="start" fill="#111" textLength="292.5" lengthAdjust="spacingAndGlyphs">Sinusoidal Amplitude Modulated Stimuli</text>
<path d="M371.9,493.42 L372.4,493.2 L372.9,492.9 L373.41,492.5 L373.91,492.03 L374.41,491.47 L374.91,490.82 L375.41,490.1 L375.91,489.3 L376.42,488.43 L376.92,487.48 L377.42,486.46 L377.92,485.38 L378.42,484.23 L378.93,483.02 L379.43,481.75 L379.93,480.43 L380.43,479.06 L380.93,477.65 L381.43,476.19 L381.94,474.69 L382.44,473.16 L382.94,471.61 L383.44,470.02 L383.94,468.42 L384.45,466.8 L384.95,465.18 L385.45,463.54 L385.95,461.91 L386.45,460.28 L386.95,458.65 L387.46,457.04 L387.96,455.45 L388.46,453.88 L388.96,452.34 L389.46,450.83 L389.97,449.35 L390.47,447.91 L390.97,446.52 L391.47,445.18 L391.97,443.88 L392.47,442.64 L392.98,441.47 L393.48,440.35 L393.98,439.3 L394.48,438.32 L394.98,437.41 L395.49,436.57 L395.99,435.81 L396.49,435.13 L396.99,434.53 L397.49,434.02 L397.99,433.58 L398.5,433.23 L399,432.97 L399.5,432.8 L400,432.71 L400.5,432.71 L401.01,432.8 L401.51,432.98 L402.01,433.24 L402.51,433.59 L403.01,434.02 L403.52,434.54 L404.02,435.14 L404.52,435.82 L405.02,436.58 L405.52,437.42 L406.02,438.33 L406.53,439.31 L407.03,440.36 L407.53,441.48 L408.03,442.66 L408.53,443.9 L409.04,445.19 L409.54,446.54 L410.04,447.93 L410.54,449.37 L411.04,450.85 L411.54,452.36 L412.05,453.9 L412.55,455.47 L413.05,457.06 L413.55,458.68 L414.05,460.3 L414.56,461.93 L415.06,463.56 L415.56,465.2 L416.06,466.83 L416.56,468.44 L417.06,470.04 L417.57,471.63 L418.07,473.18 L418.57,474.71 L419.07,476.21 L419.57,477.66 L420.08,479.08 L420.58,480.45 L421.08,481.77 L421.58,483.04 L422.08,484.25 L422.58,485.39 L423.09,486.48 L423.59,487.49 L424.09,488.44 L424.59,489.31 L425.09,490.11 L425.6,490.83 L426.1,491.47 L426.6,492.03 L427.1,492.51 L427.6,492.9 L428.1,493.21 L428.61,493.42 L429.11,493.56 L429.61,493.6" fill="none" stroke="#ff8c1a" stroke-width="1.7" stroke-dasharray="8 7.5" stroke-dashoffset="12.9"/>
<path d="M429.61,493.6 L430.11,493.56 L430.61,493.42 L431.11,493.21 L431.62,492.9 L432.12,492.51 L432.62,492.03 L433.12,491.48 L433.62,490.84 L434.12,490.12 L434.63,489.32 L435.13,488.44 L435.63,487.5 L436.13,486.48 L436.63,485.4 L437.13,484.25 L437.64,483.04 L438.14,481.78 L438.64,480.46 L439.14,479.09 L439.64,477.67 L440.14,476.22 L440.65,474.72 L441.15,473.2 L441.65,471.64 L442.15,470.06 L442.65,468.46 L443.15,466.84 L443.66,465.21 L444.16,463.58 L444.66,461.95 L445.16,460.32 L445.66,458.69 L446.16,457.08 L446.67,455.49 L447.17,453.92 L447.67,452.38 L448.17,450.86 L448.67,449.39 L449.17,447.95 L449.68,446.56 L450.18,445.21 L450.68,443.92 L451.18,442.68 L451.68,441.5 L452.18,440.38 L452.69,439.33 L453.19,438.34 L453.69,437.43 L454.19,436.6 L454.69,435.83 L455.19,435.15 L455.7,434.55 L456.2,434.03 L456.7,433.59 L457.2,433.24 L457.7,432.98 L458.2,432.8 L458.71,432.71 L459.21,432.71 L459.71,432.8 L460.21,432.97 L460.71,433.23 L461.21,433.57 L461.72,434 L462.22,434.52 L462.72,435.12 L463.22,435.8 L463.72,436.55 L464.22,437.39 L464.73,438.29 L465.23,439.27 L465.73,440.32 L466.23,441.44 L466.73,442.61 L467.23,443.85 L467.74,445.14 L468.24,446.48 L468.74,447.87 L469.24,449.31 L469.74,450.79 L470.24,452.3 L470.75,453.84 L471.25,455.41 L471.75,457 L472.25,458.61 L472.75,460.23 L473.25,461.86 L473.76,463.49 L474.26,465.13 L474.76,466.75 L475.26,468.37 L475.76,469.97 L476.26,471.56 L476.77,473.11 L477.27,474.64 L477.77,476.14 L478.27,477.6 L478.77,479.02 L479.27,480.39 L479.78,481.71 L480.28,482.98 L480.78,484.19 L481.28,485.34 L481.78,486.43 L482.28,487.45 L482.79,488.4 L483.29,489.27 L483.79,490.07 L484.29,490.8 L484.79,491.44 L485.29,492.01 L485.8,492.49 L486.3,492.88 L486.8,493.19 L487.3,493.42" fill="none" stroke="#ff8c1a" stroke-width="1.7" stroke-dasharray="8 7.5" stroke-dashoffset="11.87"/>
<path d="M370.9,494.1 L371.15,494.11 L371.4,494.14 L371.65,494.18 L371.9,494.22 L372.15,494.23 L372.4,494.21 L372.65,494.13 L372.9,493.99 L373.15,493.78 L373.4,493.5 L373.65,493.16 L373.9,492.77 L374.15,492.37 L374.4,491.99 L374.65,491.67 L374.91,491.45 L375.16,491.38 L375.41,491.49 L375.66,491.81 L375.91,492.36 L376.16,493.15 L376.41,494.15 L376.66,495.35 L376.91,496.69 L377.16,498.11 L377.41,499.52 L377.66,500.85 L377.91,501.98 L378.16,502.84 L378.41,503.33 L378.66,503.37 L378.91,502.9 L379.16,501.91 L379.41,500.37 L379.66,498.32 L379.91,495.82 L380.16,492.96 L380.41,489.86 L380.66,486.67 L380.91,483.55 L381.16,480.68 L381.41,478.23 L381.66,476.38 L381.91,475.26 L382.16,475 L382.41,475.68 L382.67,477.34 L382.92,479.95 L383.17,483.47 L383.42,487.76 L383.67,492.67 L383.92,497.99 L384.17,503.46 L384.42,508.82 L384.67,513.81 L384.92,518.13 L385.17,521.53 L385.42,523.81 L385.67,524.76 L385.92,524.29 L386.17,522.33 L386.42,518.91 L386.67,514.12 L386.92,508.14 L387.17,501.2 L387.42,493.6 L387.67,485.68 L387.92,477.82 L388.17,470.4 L388.42,463.81 L388.67,458.39 L388.92,454.46 L389.17,452.27 L389.42,451.97 L389.67,453.66 L389.92,457.33 L390.17,462.85 L390.42,470.03 L390.68,478.57 L390.93,488.11 L391.18,498.21 L391.43,508.41 L391.68,518.21 L391.93,527.15 L392.18,534.77 L392.43,540.67 L392.68,544.53 L392.93,546.12 L393.18,545.31 L393.43,542.09 L393.68,536.56 L393.93,528.94 L394.18,519.55 L394.43,508.8 L394.68,497.18 L394.93,485.22 L395.18,473.49 L395.43,462.54 L395.68,452.9 L395.93,445.05 L396.18,439.37 L396.43,436.17 L396.68,435.62 L396.93,437.77 L397.18,442.56 L397.43,449.78 L397.68,459.11 L397.93,470.12 L398.18,482.32 L398.44,495.14 L398.69,507.98 L398.94,520.23 L399.19,531.32 L399.44,540.73 L399.69,548.01 L399.94,552.81 L400.19,554.91 L400.44,554.21 L400.69,550.74 L400.94,544.66 L401.19,536.27 L401.44,525.96 L401.69,514.21 L401.94,501.6 L402.19,488.69 L402.44,476.11 L402.69,464.44 L402.94,454.2 L403.19,445.88 L403.44,439.85 L403.69,436.36 L403.94,435.56 L404.19,437.45 L404.44,441.92 L404.69,448.72 L404.94,457.52 L405.19,467.88 L405.44,479.29 L405.69,491.21 L405.94,503.06 L406.2,514.31 L406.45,524.44 L406.7,532.99 L406.95,539.6 L407.2,544 L407.45,546.02 L407.7,545.62 L407.95,542.87 L408.2,537.95 L408.45,531.15 L408.7,522.82 L408.95,513.39 L409.2,503.33 L409.45,493.12 L409.7,483.24 L409.95,474.15 L410.2,466.25 L410.45,459.87 L410.7,455.25 L410.95,452.57 L411.2,451.87 L411.45,453.14 L411.7,456.23 L411.95,460.93 L412.2,466.98 L412.45,474.03 L412.7,481.72 L412.95,489.66 L413.2,497.46 L413.45,504.77 L413.7,511.26 L413.96,516.68 L414.21,520.8 L414.46,523.49 L414.71,524.71 L414.96,524.46 L415.21,522.82 L415.46,519.96 L415.71,516.07 L415.96,511.38 L416.21,506.17 L416.46,500.72 L416.71,495.29 L416.96,490.15 L417.21,485.53 L417.46,481.61 L417.71,478.53 L417.96,476.39 L418.21,475.22 L418.46,475.02 L418.71,475.72 L418.96,477.22 L419.21,479.39 L419.46,482.07 L419.71,485.09 L419.96,488.26 L420.21,491.43 L420.46,494.43 L420.71,497.12 L420.96,499.41 L421.21,501.2 L421.46,502.47 L421.71,503.2 L421.97,503.41 L422.22,503.13 L422.47,502.45 L422.72,501.45 L422.97,500.2 L423.22,498.82 L423.47,497.39 L423.72,496.01 L423.97,494.73 L424.22,493.62 L424.47,492.72 L424.72,492.06 L424.97,491.62 L425.22,491.41 L425.47,491.4 L425.72,491.55 L425.97,491.82 L426.22,492.18 L426.47,492.57 L426.72,492.97 L426.97,493.33 L427.22,493.65 L427.47,493.9 L427.72,494.07 L427.97,494.18 L428.22,494.23 L428.47,494.23 L428.72,494.2 L428.97,494.16 L429.22,494.12 L429.47,494.1 L429.73,494.1 L429.98,494.12 L430.23,494.16 L430.48,494.2 L430.73,494.23 L430.98,494.23 L431.23,494.18 L431.48,494.08 L431.73,493.91 L431.98,493.67 L432.23,493.36 L432.48,493 L432.73,492.6 L432.98,492.21 L433.23,491.85 L433.48,491.56 L433.73,491.4 L433.98,491.4 L434.23,491.6 L434.48,492.01 L434.73,492.66 L434.98,493.54 L435.23,494.64 L435.48,495.9 L435.73,497.28 L435.98,498.71 L436.23,500.1 L436.48,501.35 L436.73,502.38 L436.98,503.09 L437.23,503.4 L437.49,503.24 L437.74,502.55 L437.99,501.33 L438.24,499.57 L438.49,497.32 L438.74,494.65 L438.99,491.68 L439.24,488.52 L439.49,485.34 L439.74,482.3 L439.99,479.59 L440.24,477.37 L440.49,475.81 L440.74,475.04 L440.99,475.17 L441.24,476.26 L441.49,478.32 L441.74,481.33 L441.99,485.19 L442.24,489.76 L442.49,494.87 L442.74,500.28 L442.99,505.74 L443.24,510.98 L443.49,515.72 L443.74,519.68 L443.99,522.64 L444.24,524.38 L444.49,524.74 L444.74,523.65 L444.99,521.07 L445.24,517.05 L445.5,511.74 L445.75,505.32 L446,498.07 L446.25,490.29 L446.5,482.35 L446.75,474.63 L447,467.51 L447.25,461.37 L447.5,456.55 L447.75,453.32 L448,451.9 L448.25,452.44 L448.5,454.97 L448.75,459.43 L449,465.68 L449.25,473.47 L449.5,482.48 L449.75,492.31 L450,502.51 L450.25,512.6 L450.5,522.1 L450.75,530.53 L451,537.47 L451.25,542.55 L451.5,545.48 L451.75,546.07 L452,544.25 L452.25,540.04 L452.5,533.6 L452.75,525.19 L453,515.17 L453.26,503.99 L453.51,492.16 L453.76,480.23 L454.01,468.76 L454.26,458.3 L454.51,449.36 L454.76,442.38 L455.01,437.71 L455.26,435.61 L455.51,436.2 L455.76,439.47 L456.01,445.31 L456.26,453.46 L456.51,463.56 L456.76,475.14 L457.01,487.67 L457.26,500.57 L457.51,513.23 L457.76,525.06 L458.01,535.51 L458.26,544.07 L458.51,550.34 L458.76,554.03 L459.01,554.96 L459.26,553.08 L459.51,548.49 L459.76,541.4 L460.01,532.14 L460.26,521.17 L460.51,508.99 L460.76,496.18 L461.02,483.33 L461.27,471.06 L461.52,459.93 L461.77,450.45 L462.02,443.05 L462.27,438.06 L462.52,435.69 L462.77,436.03 L463.02,439.02 L463.27,444.51 L463.52,452.2 L463.77,461.71 L464.02,472.58 L464.27,484.27 L464.52,496.23 L464.77,507.89 L465.02,518.73 L465.27,528.25 L465.52,536.02 L465.77,541.73 L466.02,545.14 L466.27,546.14 L466.52,544.74 L466.77,541.05 L467.02,535.31 L467.27,527.81 L467.52,518.96 L467.77,509.21 L468.02,499.03 L468.27,488.9 L468.52,479.31 L468.78,470.67 L469.03,463.37 L469.28,457.7 L469.53,453.89 L469.78,452.03 L470.03,452.17 L470.28,454.22 L470.53,458.02 L470.78,463.33 L471.03,469.84 L471.28,477.21 L471.53,485.05 L471.78,492.97 L472.03,500.61 L472.28,507.61 L472.53,513.68 L472.78,518.57 L473.03,522.11 L473.28,524.19 L473.53,524.78 L473.78,523.93 L474.03,521.76 L474.28,518.44 L474.53,514.18 L474.78,509.24 L475.03,503.89 L475.28,498.42 L475.53,493.09 L475.78,488.14 L476.03,483.79 L476.28,480.2 L476.53,477.51 L476.79,475.78 L477.04,475.02 L477.29,475.21 L477.54,476.26 L477.79,478.06 L478.04,480.47 L478.29,483.31 L478.54,486.41 L478.79,489.6 L479.04,492.72 L479.29,495.6 L479.54,498.14 L479.79,500.22 L480.04,501.8 L480.29,502.84 L480.54,503.35 L480.79,503.35 L481.04,502.89 L481.29,502.06 L481.54,500.95 L481.79,499.63 L482.04,498.22 L482.29,496.8 L482.54,495.45 L482.79,494.24 L483.04,493.22 L483.29,492.41 L483.54,491.84 L483.79,491.51 L484.04,491.38 L484.29,491.44 L484.55,491.65 L484.8,491.96 L485.05,492.34 L485.3,492.74 L485.55,493.13 L485.8,493.47 L486.05,493.76 L486.3,493.98 L486.55,494.12 L486.8,494.2 L487.05,494.23 L487.3,494.22 L487.55,494.18 L487.8,494.14 L488.05,494.11 L488.3,494.1" fill="none" stroke="#1f77c4" stroke-width="1.85" stroke-linejoin="round"/>
<path d="M499.6,472.3 L500.1,472.95 L500.61,473.55 L501.11,474.11 L501.61,474.61 L502.11,475.07 L502.62,475.47 L503.12,475.82 L503.62,476.12 L504.12,476.36 L504.63,476.54 L505.13,476.67 L505.63,476.75 L506.14,476.77 L506.64,476.73 L507.14,476.63 L507.64,476.48 L508.15,476.27 L508.65,476.01 L509.15,475.69 L509.65,475.32 L510.16,474.9 L510.66,474.43 L511.16,473.9 L511.67,473.33 L512.17,472.71 L512.67,472.05 L513.17,471.34 L513.68,470.59 L514.18,469.8 L514.68,468.97 L515.18,468.11 L515.69,467.22 L516.19,466.3 L516.69,465.35 L517.2,464.37 L517.7,463.37 L518.2,462.36 L518.7,461.32 L519.21,460.28 L519.71,459.22 L520.21,458.15 L520.71,457.08 L521.22,456.01 L521.72,454.94 L522.22,453.88 L522.73,452.82 L523.23,451.77 L523.73,450.73 L524.23,449.71 L524.74,448.71 L525.24,447.73 L525.74,446.77 L526.24,445.84 L526.75,444.94 L527.25,444.07 L527.75,443.24 L528.26,442.44 L528.76,441.69 L529.26,440.97 L529.76,440.29 L530.27,439.67 L530.77,439.08 L531.27,438.55 L531.77,438.06 L532.28,437.63 L532.78,437.25 L533.28,436.92 L533.79,436.65 L534.29,436.43 L534.79,436.26 L535.29,436.16 L535.8,436.1 L536.3,436.11 L536.8,436.17 L537.3,436.29 L537.81,436.46 L538.31,436.69 L538.81,436.98 L539.32,437.32 L539.82,437.71 L540.32,438.15 L540.82,438.65 L541.33,439.19 L541.83,439.78 L542.33,440.42 L542.83,441.1 L543.34,441.83 L543.84,442.59 L544.34,443.4 L544.85,444.24 L545.35,445.11 L545.85,446.02 L546.35,446.95 L546.86,447.91 L547.36,448.9 L547.86,449.9 L548.36,450.93 L548.87,451.97 L549.37,453.02 L549.87,454.08 L550.38,455.15 L550.88,456.22 L551.38,457.29 L551.88,458.36 L552.39,459.42 L552.89,460.48 L553.39,461.52 L553.89,462.55 L554.4,463.56 L554.9,464.56 L555.4,465.53 L555.91,466.47 L556.41,467.39 L556.91,468.28 L557.41,469.13 L557.92,469.95 L558.42,470.73 L558.92,471.48 L559.42,472.18 L559.93,472.83 L560.43,473.44 L560.93,474.01 L561.44,474.52 L561.94,474.99 L562.44,475.4 L562.94,475.76 L563.45,476.06 L563.95,476.32 L564.45,476.51 L564.95,476.65 L565.46,476.74 L565.96,476.77" fill="none" stroke="#ff8c1a" stroke-width="1.7" stroke-dasharray="8 7.5" stroke-dashoffset="5.56"/>
<path d="M565.96,476.77 L566.46,476.74 L566.97,476.65 L567.47,476.51 L567.97,476.31 L568.48,476.06 L568.98,475.75 L569.48,475.39 L569.99,474.98 L570.49,474.51 L571,474 L571.5,473.43 L572,472.82 L572.51,472.16 L573.01,471.46 L573.51,470.72 L574.02,469.93 L574.52,469.11 L575.02,468.25 L575.53,467.36 L576.03,466.44 L576.53,465.5 L577.04,464.52 L577.54,463.53 L578.04,462.51 L578.55,461.48 L579.05,460.43 L579.56,459.38 L580.06,458.31 L580.56,457.24 L581.07,456.16 L581.57,455.09 L582.07,454.02 L582.58,452.96 L583.08,451.91 L583.58,450.87 L584.09,449.84 L584.59,448.84 L585.09,447.85 L585.6,446.89 L586.1,445.96 L586.6,445.05 L587.11,444.18 L587.61,443.34 L588.12,442.54 L588.62,441.77 L589.12,441.05 L589.63,440.37 L590.13,439.73 L590.63,439.15 L591.14,438.6 L591.64,438.11 L592.14,437.67 L592.65,437.29 L593.15,436.95 L593.65,436.67 L594.16,436.45 L594.66,436.28 L595.16,436.16 L595.67,436.11 L596.17,436.11 L596.68,436.16 L597.18,436.28 L597.68,436.45 L598.19,436.67 L598.69,436.95 L599.19,437.29 L599.7,437.67 L600.2,438.11 L600.7,438.6 L601.21,439.15 L601.71,439.73 L602.21,440.37 L602.72,441.05 L603.22,441.77 L603.72,442.54 L604.23,443.34 L604.73,444.18 L605.24,445.05 L605.74,445.96 L606.24,446.89 L606.75,447.85 L607.25,448.84 L607.75,449.84 L608.26,450.87 L608.76,451.91 L609.26,452.96 L609.77,454.02 L610.27,455.09 L610.77,456.16 L611.28,457.24 L611.78,458.31 L612.28,459.38 L612.79,460.43 L613.29,461.48 L613.8,462.51 L614.3,463.53 L614.8,464.52 L615.31,465.5 L615.81,466.44 L616.31,467.36 L616.82,468.25 L617.32,469.11 L617.82,469.93 L618.33,470.72 L618.83,471.46 L619.33,472.16 L619.84,472.82 L620.34,473.43 L620.84,474 L621.35,474.51 L621.85,474.98 L622.36,475.39 L622.86,475.75 L623.36,476.06 L623.87,476.31 L624.37,476.51 L624.87,476.65 L625.38,476.74 L625.88,476.77" fill="none" stroke="#ff8c1a" stroke-width="1.7" stroke-dasharray="8 7.5" stroke-dashoffset="13.67"/>
<path d="M498.6,523.79 L498.85,522.63 L499.1,520.41 L499.35,517.27 L499.6,513.36 L499.85,508.88 L500.1,504.02 L500.35,499.01 L500.6,494.06 L500.85,489.39 L501.1,485.17 L501.35,481.6 L501.6,478.79 L501.85,476.85 L502.1,475.84 L502.35,475.79 L502.6,476.69 L502.85,478.47 L503.11,481.04 L503.36,484.29 L503.61,488.07 L503.86,492.21 L504.11,496.54 L504.36,500.86 L504.61,505.01 L504.86,508.81 L505.11,512.09 L505.36,514.74 L505.61,516.63 L505.86,517.7 L506.11,517.9 L506.36,517.22 L506.61,515.69 L506.86,513.37 L507.11,510.36 L507.36,506.77 L507.61,502.76 L507.86,498.5 L508.11,494.15 L508.36,489.9 L508.61,485.94 L508.86,482.43 L509.11,479.54 L509.36,477.38 L509.61,476.08 L509.86,475.7 L510.11,476.28 L510.36,477.8 L510.61,480.23 L510.86,483.47 L511.11,487.42 L511.36,491.91 L511.62,496.76 L511.87,501.77 L512.12,506.72 L512.37,511.4 L512.62,515.6 L512.87,519.1 L513.12,521.75 L513.37,523.4 L513.62,523.95 L513.87,523.34 L514.12,521.56 L514.37,518.66 L514.62,514.72 L514.87,509.91 L515.12,504.4 L515.37,498.41 L515.62,492.2 L515.87,486.05 L516.12,480.22 L516.37,475 L516.62,470.62 L516.87,467.33 L517.12,465.28 L517.37,464.63 L517.62,465.44 L517.87,467.71 L518.12,471.4 L518.37,476.37 L518.62,482.44 L518.87,489.37 L519.12,496.88 L519.37,504.63 L519.62,512.29 L519.87,519.51 L520.13,525.94 L520.38,531.29 L520.63,535.27 L520.88,537.67 L521.13,538.33 L521.38,537.19 L521.63,534.24 L521.88,529.57 L522.13,523.35 L522.38,515.83 L522.63,507.3 L522.88,498.13 L523.13,488.72 L523.38,479.49 L523.63,470.85 L523.88,463.22 L524.13,456.96 L524.38,452.38 L524.63,449.72 L524.88,449.15 L525.13,450.74 L525.38,454.44 L525.63,460.15 L525.88,467.64 L526.13,476.6 L526.38,486.66 L526.63,497.39 L526.88,508.32 L527.13,518.94 L527.38,528.8 L527.63,537.41 L527.88,544.39 L528.13,549.39 L528.38,552.15 L528.64,552.53 L528.89,550.47 L529.14,546.02 L529.39,539.37 L529.64,530.79 L529.89,520.62 L530.14,509.32 L530.39,497.38 L530.64,485.32 L530.89,473.69 L531.14,463.01 L531.39,453.77 L531.64,446.39 L531.89,441.23 L532.14,438.52 L532.39,438.42 L532.64,440.93 L532.89,445.98 L533.14,453.33 L533.39,462.69 L533.64,473.63 L533.89,485.69 L534.14,498.31 L534.39,510.95 L534.64,523.04 L534.89,534.03 L535.14,543.43 L535.39,550.82 L535.64,555.88 L535.89,558.36 L536.14,558.15 L536.39,555.28 L536.64,549.86 L536.89,542.14 L537.15,532.47 L537.4,521.29 L537.65,509.08 L537.9,496.41 L538.15,483.83 L538.4,471.91 L538.65,461.18 L538.9,452.1 L539.15,445.07 L539.4,440.39 L539.65,438.27 L539.9,438.76 L540.15,441.85 L540.4,447.36 L540.65,455.04 L540.9,464.52 L541.15,475.38 L541.4,487.11 L541.65,499.18 L541.9,511.06 L542.15,522.22 L542.4,532.18 L542.65,540.5 L542.9,546.83 L543.15,550.93 L543.4,552.63 L543.65,551.89 L543.9,548.78 L544.15,543.47 L544.4,536.22 L544.65,527.39 L544.9,517.39 L545.15,506.69 L545.4,495.76 L545.65,485.11 L545.91,475.18 L546.16,466.42 L546.41,459.18 L546.66,453.76 L546.91,450.36 L547.16,449.1 L547.41,449.99 L547.66,452.95 L547.91,457.8 L548.16,464.28 L548.41,472.09 L548.66,480.84 L548.91,490.12 L549.16,499.53 L549.41,508.62 L549.66,517.02 L549.91,524.37 L550.16,530.37 L550.41,534.79 L550.66,537.47 L550.91,538.35 L551.16,537.41 L551.41,534.77 L551.66,530.57 L551.91,525.04 L552.16,518.47 L552.41,511.16 L552.66,503.47 L552.91,495.73 L553.16,488.29 L553.41,481.47 L553.66,475.55 L553.91,470.76 L554.16,467.28 L554.42,465.23 L554.67,464.64 L554.92,465.5 L555.17,467.74 L555.42,471.21 L555.67,475.73 L555.92,481.06 L556.17,486.95 L556.42,493.13 L556.67,499.32 L556.92,505.26 L557.17,510.68 L557.42,515.37 L557.67,519.16 L557.92,521.9 L558.17,523.5 L558.42,523.94 L558.67,523.22 L558.92,521.42 L559.17,518.63 L559.42,515.01 L559.67,510.73 L559.92,505.99 L560.17,501.02 L560.42,496.02 L560.67,491.21 L560.92,486.79 L561.17,482.94 L561.42,479.81 L561.67,477.51 L561.92,476.13 L562.17,475.7 L562.42,476.22 L562.67,477.65 L562.93,479.92 L563.18,482.92 L563.43,486.51 L563.68,490.52 L563.93,494.8 L564.18,499.14 L564.43,503.38 L564.68,507.34 L564.93,510.85 L565.18,513.76 L565.43,515.97 L565.68,517.38 L565.93,517.93 L566.18,517.6 L566.43,516.4 L566.68,514.39 L566.93,511.64 L567.18,508.27 L567.43,504.41 L567.68,500.22 L567.93,495.89 L568.18,491.58 L568.43,487.48 L568.68,483.77 L568.93,480.61 L569.18,478.15 L569.43,476.5 L569.68,475.74 L569.93,475.93 L570.18,477.08 L570.43,479.15 L570.68,482.08 L570.93,485.77 L571.18,490.06 L571.44,494.79 L571.69,499.76 L571.94,504.76 L572.19,509.58 L572.44,513.99 L572.69,517.79 L572.94,520.81 L573.19,522.87 L573.44,523.87 L573.69,523.72 L573.94,522.41 L574.19,519.95 L574.44,516.41 L574.69,511.93 L574.94,506.67 L575.19,500.84 L575.44,494.69 L575.69,488.49 L575.94,482.5 L576.19,477 L576.44,472.25 L576.69,468.5 L576.94,465.94 L577.19,464.72 L577.44,464.94 L577.69,466.63 L577.94,469.76 L578.19,474.24 L578.44,479.9 L578.69,486.52 L578.94,493.83 L579.19,501.52 L579.44,509.26 L579.69,516.69 L579.95,523.48 L580.2,529.3 L580.45,533.85 L580.7,536.91 L580.95,538.28 L581.2,537.86 L581.45,535.63 L581.7,531.64 L581.95,526.01 L582.2,518.98 L582.45,510.81 L582.7,501.85 L582.95,492.49 L583.2,483.13 L583.45,474.21 L583.7,466.13 L583.95,459.28 L584.2,453.99 L584.45,450.54 L584.7,449.13 L584.95,449.84 L585.2,452.71 L585.45,457.64 L585.7,464.45 L585.95,472.86 L586.2,482.53 L586.45,493.05 L586.7,503.95 L586.95,514.76 L587.2,524.98 L587.45,534.14 L587.7,541.82 L587.95,547.64 L588.2,551.33 L588.45,552.67 L588.71,551.58 L588.96,548.08 L589.21,542.28 L589.46,534.43 L589.71,524.85 L589.96,513.95 L590.21,502.2 L590.46,490.12 L590.71,478.25 L590.96,467.13 L591.21,457.26 L591.46,449.09 L591.71,443.01 L591.96,439.3 L592.21,438.14 L592.46,439.62 L592.71,443.67 L592.96,450.13 L593.21,458.73 L593.46,469.09 L593.71,480.77 L593.96,493.23 L594.21,505.93 L594.46,518.3 L594.71,529.8 L594.96,539.89 L595.21,548.13 L595.46,554.15 L595.71,557.68 L595.96,558.56 L596.21,556.74 L596.46,552.32 L596.71,545.49 L596.96,536.55 L597.22,525.91 L597.47,514.05 L597.72,501.5 L597.97,488.82 L598.22,476.57 L598.47,465.3 L598.72,455.5 L598.97,447.61 L599.22,441.97 L599.47,438.8 L599.72,438.25 L599.97,440.31 L600.22,444.88 L600.47,451.73 L600.72,460.54 L600.97,470.9 L601.22,482.34 L601.47,494.35 L601.72,506.37 L601.97,517.88 L602.22,528.37 L602.47,537.39 L602.72,544.56 L602.97,549.57 L603.22,552.24 L603.47,552.47 L603.72,550.3 L603.97,545.84 L604.22,539.33 L604.47,531.09 L604.72,521.5 L604.97,511.02 L605.22,500.13 L605.47,489.31 L605.73,479.03 L605.98,469.76 L606.23,461.87 L606.48,455.69 L606.73,451.47 L606.98,449.35 L607.23,449.38 L607.48,451.53 L607.73,455.64 L607.98,461.51 L608.23,468.83 L608.48,477.25 L608.73,486.37 L608.98,495.78 L609.23,505.05 L609.48,513.77 L609.73,521.58 L609.98,528.15 L610.23,533.23 L610.48,536.62 L610.73,538.22 L610.98,538 L611.23,536.02 L611.48,532.42 L611.73,527.4 L611.98,521.2 L612.23,514.15 L612.48,506.57 L612.73,498.81 L612.98,491.21 L613.23,484.11 L613.48,477.8 L613.73,472.53 L613.98,468.51 L614.24,465.87 L614.49,464.7 L614.74,464.99 L614.99,466.69 L615.24,469.69 L615.49,473.81 L615.74,478.85 L615.99,484.55 L616.24,490.65 L616.49,496.87 L616.74,502.93 L616.99,508.58 L617.24,513.59 L617.49,517.76 L617.74,520.93 L617.99,523 L618.24,523.91 L618.49,523.65 L618.74,522.27 L618.99,519.85 L619.24,516.55 L619.49,512.51 L619.74,507.93 L619.99,503.02 L620.24,498.01 L620.49,493.1 L620.74,488.5 L620.99,484.4 L621.24,480.97 L621.49,478.33 L621.74,476.57 L621.99,475.76 L622.24,475.9 L622.49,476.98 L622.75,478.92 L623,481.64 L623.25,485.01 L623.5,488.88 L623.75,493.07 L624,497.41 L624.25,501.71 L624.5,505.8 L624.75,509.51 L625,512.68 L625.25,515.18 L625.5,516.92 L625.75,517.81 L626,517.83 L626.25,516.98 L626.5,515.29 L626.75,512.82 L627,509.68" fill="none" stroke="#1f77c4" stroke-width="1.85" stroke-linejoin="round"/>
<path d="M373,690.4 L373.25,690.28 L373.5,690.11 L373.75,689.9 L374,689.64 L374.26,689.34 L374.51,688.99 L374.76,688.59 L375.01,688.15 L375.26,687.67 L375.51,687.14 L375.76,686.57 L376.01,685.96 L376.26,685.3 L376.51,684.6 L376.77,683.86 L377.02,683.08 L377.27,682.25 L377.52,681.39 L377.77,680.49 L378.02,679.55 L378.27,678.58 L378.52,677.56 L378.77,676.51 L379.03,675.43 L379.28,674.31 L379.53,673.16 L379.78,671.98 L380.03,670.77 L380.28,669.52 L380.53,668.25 L380.78,666.95 L381.03,665.62 L381.29,664.26 L381.54,662.88 L381.79,661.48 L382.04,660.05 L382.29,658.61 L382.54,657.14 L382.79,655.65 L383.04,654.15 L383.29,652.63 L383.54,651.09 L383.8,649.54 L384.05,647.98 L384.3,646.41 L384.55,644.82 L384.8,643.23 L385.05,641.63 L385.3,640.02 L385.55,638.41 L385.8,636.79 L386.06,635.17 L386.31,633.56 L386.56,631.94 L386.81,630.32 L387.06,628.71 L387.31,627.1 L387.56,625.49 L387.81,623.9 L388.06,622.31 L388.31,620.73 L388.57,619.16 L388.82,617.6 L389.07,616.06 L389.32,614.53 L389.57,613.02 L389.82,611.53 L390.07,610.05 L390.32,608.6 L390.57,607.16 L390.83,605.75 L391.08,604.36 L391.33,602.99 L391.58,601.65 L391.83,600.34 L392.08,599.05 L392.33,597.79 L392.58,596.56 L392.83,595.37 L393.09,594.2 L393.34,593.07 L393.59,591.97 L393.84,590.91 L394.09,589.88 L394.34,588.88 L394.59,587.93 L394.84,587.01 L395.09,586.13 L395.34,585.29 L395.6,584.49 L395.85,583.73 L396.1,583.01 L396.35,582.34 L396.6,581.7 L396.85,581.11 L397.1,580.56 L397.35,580.06 L397.6,579.6 L397.86,579.18 L398.11,578.81 L398.36,578.49 L398.61,578.21 L398.86,577.98 L399.11,577.79 L399.36,577.65 L399.61,577.56 L399.86,577.51 L400.11,577.5 L400.37,577.55 L400.62,577.64 L400.87,577.78 L401.12,577.96 L401.37,578.19 L401.62,578.46 L401.87,578.79 L402.12,579.15 L402.37,579.56 L402.63,580.02 L402.88,580.52 L403.13,581.06 L403.38,581.65 L403.63,582.28 L403.88,582.95 L404.13,583.67 L404.38,584.42 L404.63,585.22 L404.89,586.06 L405.14,586.93 L405.39,587.85 L405.64,588.8 L405.89,589.79 L406.14,590.82 L406.39,591.88 L406.64,592.97 L406.89,594.1 L407.14,595.27 L407.4,596.46 L407.65,597.69 L407.9,598.94 L408.15,600.23 L408.4,601.54 L408.65,602.88 L408.9,604.24 L409.15,605.63 L409.4,607.04 L409.66,608.47 L409.91,609.93 L410.16,611.4 L410.41,612.9 L410.66,614.41 L410.91,615.93 L411.16,617.47 L411.41,619.03 L411.66,620.6 L411.91,622.17 L412.17,623.76 L412.42,625.36 L412.67,626.96 L412.92,628.57 L413.17,630.18 L413.42,631.8 L413.67,633.42 L413.92,635.04 L414.17,636.66 L414.43,638.27 L414.68,639.88 L414.93,641.49 L415.18,643.09 L415.43,644.69 L415.68,646.27 L415.93,647.85 L416.18,649.41 L416.43,650.96 L416.69,652.5 L416.94,654.02 L417.19,655.53 L417.44,657.01 L417.69,658.48 L417.94,659.93 L418.19,661.36 L418.44,662.77 L418.69,664.15 L418.94,665.5 L419.2,666.83 L419.45,668.14 L419.7,669.41 L419.95,670.66 L420.2,671.88 L420.45,673.06 L420.7,674.22 L420.95,675.34 L421.2,676.42 L421.46,677.48 L421.71,678.49 L421.96,679.47 L422.21,680.41 L422.46,681.32 L422.71,682.18 L422.96,683.01 L423.21,683.79 L423.46,684.54 L423.71,685.24 L423.97,685.9 L424.22,686.52 L424.47,687.1 L424.72,687.63 L424.97,688.11 L425.22,688.56 L425.47,688.96 L425.72,689.31 L425.97,689.62 L426.23,689.88 L426.48,690.1 L426.73,690.27 L426.98,690.39 L427.23,690.47 L427.48,690.5 L427.73,690.48 L427.98,690.42 L428.23,690.32 L428.49,690.16 L428.74,689.96 L428.99,689.71 L429.24,689.42 L429.49,689.09 L429.74,688.7 L429.99,688.28 L430.24,687.8 L430.49,687.29 L430.74,686.73 L431,686.12 L431.25,685.48 L431.5,684.79 L431.75,684.06 L432,683.29 L432.25,682.48 L432.5,681.63 L432.75,680.74 L433,679.81 L433.26,678.84 L433.51,677.84 L433.76,676.8 L434.01,675.72 L434.26,674.61 L434.51,673.47 L434.76,672.3 L435.01,671.09 L435.26,669.86 L435.51,668.59 L435.77,667.3 L436.02,665.97 L436.27,664.63 L436.52,663.25 L436.77,661.86 L437.02,660.44 L437.27,659 L437.52,657.53 L437.77,656.05 L438.03,654.55 L438.28,653.04 L438.53,651.5 L438.78,649.96 L439.03,648.4 L439.28,646.83 L439.53,645.25 L439.78,643.65 L440.03,642.06 L440.29,640.45 L440.54,638.84 L440.79,637.22 L441.04,635.61 L441.29,633.99 L441.54,632.37 L441.79,630.75 L442.04,629.14 L442.29,627.53 L442.54,625.92 L442.8,624.32 L443.05,622.73 L443.3,621.15 L443.55,619.58 L443.8,618.02 L444.05,616.47 L444.3,614.94 L444.55,613.42 L444.8,611.93 L445.06,610.44 L445.31,608.98 L445.56,607.54 L445.81,606.12 L446.06,604.73 L446.31,603.35 L446.56,602.01 L446.81,600.68 L447.06,599.39 L447.31,598.13 L447.57,596.89 L447.82,595.68 L448.07,594.51 L448.32,593.37 L448.57,592.26 L448.82,591.19 L449.07,590.15 L449.32,589.15 L449.57,588.18 L449.83,587.25 L450.08,586.36 L450.33,585.51 L450.58,584.7 L450.83,583.93 L451.08,583.2 L451.33,582.51 L451.58,581.87 L451.83,581.26 L452.09,580.7 L452.34,580.19 L452.59,579.72 L452.84,579.29 L453.09,578.91 L453.34,578.57 L453.59,578.28 L453.84,578.04 L454.09,577.84 L454.34,577.68 L454.6,577.58 L454.85,577.52 L455.1,577.5 L455.35,577.53 L455.6,577.61 L455.85,577.74 L456.1,577.91 L456.35,578.12 L456.6,578.39 L456.86,578.7 L457.11,579.05 L457.36,579.45 L457.61,579.89 L457.86,580.38 L458.11,580.91 L458.36,581.49 L458.61,582.11 L458.86,582.77 L459.11,583.47 L459.37,584.22 L459.62,585 L459.87,585.83 L460.12,586.7 L460.37,587.6 L460.62,588.54 L460.87,589.52 L461.12,590.54 L461.37,591.59 L461.63,592.68 L461.88,593.8 L462.13,594.95 L462.38,596.14 L462.63,597.36 L462.88,598.6 L463.13,599.88 L463.38,601.19 L463.63,602.52 L463.89,603.87 L464.14,605.26 L464.39,606.66 L464.64,608.09 L464.89,609.54 L465.14,611.01 L465.39,612.5 L465.64,614 L465.89,615.52 L466.14,617.06 L466.4,618.61 L466.65,620.18 L466.9,621.75 L467.15,623.34 L467.4,624.93 L467.65,626.53 L467.9,628.14 L468.15,629.75 L468.4,631.37 L468.66,632.99 L468.91,634.61 L469.16,636.22 L469.41,637.84 L469.66,639.45 L469.91,641.06 L470.16,642.67 L470.41,644.26 L470.66,645.85 L470.91,647.43 L471.17,648.99 L471.42,650.55 L471.67,652.09 L471.92,653.62 L472.17,655.13 L472.42,656.62 L472.67,658.09 L472.92,659.55 L473.17,660.98 L473.43,662.39 L473.68,663.78 L473.93,665.14 L474.18,666.48 L474.43,667.79 L474.68,669.08 L474.93,670.33 L475.18,671.56 L475.43,672.75 L475.69,673.91 L475.94,675.04 L476.19,676.14 L476.44,677.2 L476.69,678.22 L476.94,679.21 L477.19,680.17 L477.44,681.08 L477.69,681.96 L477.94,682.79 L478.2,683.59 L478.45,684.34 L478.7,685.06 L478.95,685.73 L479.2,686.36 L479.45,686.95 L479.7,687.49 L479.95,687.99 L480.2,688.44 L480.46,688.85 L480.71,689.22 L480.96,689.54 L481.21,689.81 L481.46,690.04 L481.71,690.23 L481.96,690.36 L482.21,690.45 L482.46,690.5 L482.71,690.49 L482.97,690.44 L483.22,690.35 L483.47,690.21 L483.72,690.02 L483.97,689.79 L484.22,689.51 L484.47,689.18 L484.72,688.81 L484.97,688.39 L485.23,687.93 L485.48,687.43 L485.73,686.88 L485.98,686.29 L486.23,685.66 L486.48,684.98 L486.73,684.26 L486.98,683.5 L487.23,682.7 L487.49,681.86 L487.74,680.98 L487.99,680.06 L488.24,679.1 L488.49,678.11 L488.74,677.08 L488.99,676.01 L489.24,674.91 L489.49,673.78 L489.74,672.61 L490,671.42 L490.25,670.19 L490.5,668.93 L490.75,667.64 L491,666.33" fill="none" stroke="#1f77c4" stroke-width="2.1"/>
<line x1="373" y1="576.6" x2="492" y2="576.6" stroke="#ff8c1a" stroke-width="1.8" stroke-dasharray="8 8.4"/>
<line x1="429.7" y1="448.2" x2="429.7" y2="483.8" stroke="#111" stroke-width="1.9"/>
<path d="M429.7,492.5 L423.4,481.8 Q427.18,482.34 429.7,483.94 Q432.22,482.34 436,481.8 Z" fill="#111"/>
<line x1="429.7" y1="539.6" x2="429.7" y2="505.6" stroke="#111" stroke-width="1.9"/>
<path d="M429.7,496.9 L423.4,507.6 Q427.18,507.06 429.7,505.46 Q432.22,507.06 436,507.6 Z" fill="#111"/>
<line x1="566.2" y1="444.4" x2="566.2" y2="465" stroke="#111" stroke-width="1.9"/>
<path d="M566.2,474.4 L559.9,463 Q563.68,463.57 566.2,465.28 Q568.72,463.57 572.5,463 Z" fill="#111"/>
<line x1="566.2" y1="558.9" x2="566.2" y2="530.5" stroke="#111" stroke-width="1.9"/>
<path d="M566.2,521.1 L559.9,532.5 Q563.68,531.93 566.2,530.22 Q568.72,531.93 572.5,532.5 Z" fill="#111"/>
<text x="409.7" y="433.2" font-size="8.8" text-anchor="start" fill="#222" textLength="43.2" lengthAdjust="spacingAndGlyphs">Modulation</text>
<text x="419.4" y="443.7" font-size="8.8" text-anchor="start" fill="#222" textLength="22.4" lengthAdjust="spacingAndGlyphs">Depth</text>
<text x="547.8" y="432.9" font-size="8.8" text-anchor="start" fill="#222" textLength="42.6" lengthAdjust="spacingAndGlyphs">Modulation</text>
<text x="556.2" y="443.3" font-size="8.8" text-anchor="start" fill="#222" textLength="21.6" lengthAdjust="spacingAndGlyphs">Depth</text>
<text x="416" y="549.3" font-size="13.5" text-anchor="start" fill="#111" textLength="28.7" lengthAdjust="spacingAndGlyphs">0 dB</text>
<text x="550.4" y="568.4" font-size="13.5" text-anchor="start" fill="#111" textLength="33.4" lengthAdjust="spacingAndGlyphs">-6 dB</text>
<text x="465.8" y="587.7" font-size="8" text-anchor="start" fill="#222" textLength="54.3" lengthAdjust="spacingAndGlyphs">No Modulation</text>
<text x="474.6" y="598.1" font-size="8" text-anchor="start" fill="#222" textLength="38.9" lengthAdjust="spacingAndGlyphs">Depth (-&#8734;)</text>
<line x1="503.8" y1="617.8" x2="529.7" y2="617.8" stroke="#1f77c4" stroke-width="1.9"/>
<line x1="503.8" y1="641.2" x2="529.7" y2="641.2" stroke="#ff8c1a" stroke-width="1.4" stroke-dasharray="1.5 1"/>
<text x="533.3" y="622.9" font-size="14" text-anchor="start" fill="#111" textLength="65.6" lengthAdjust="spacingAndGlyphs">AM Stimuli</text>
<text x="533.3" y="643.7" font-size="14" text-anchor="start" fill="#111" textLength="99.3" lengthAdjust="spacingAndGlyphs">Carrier Envelope</text>
</svg>
</body></html>
